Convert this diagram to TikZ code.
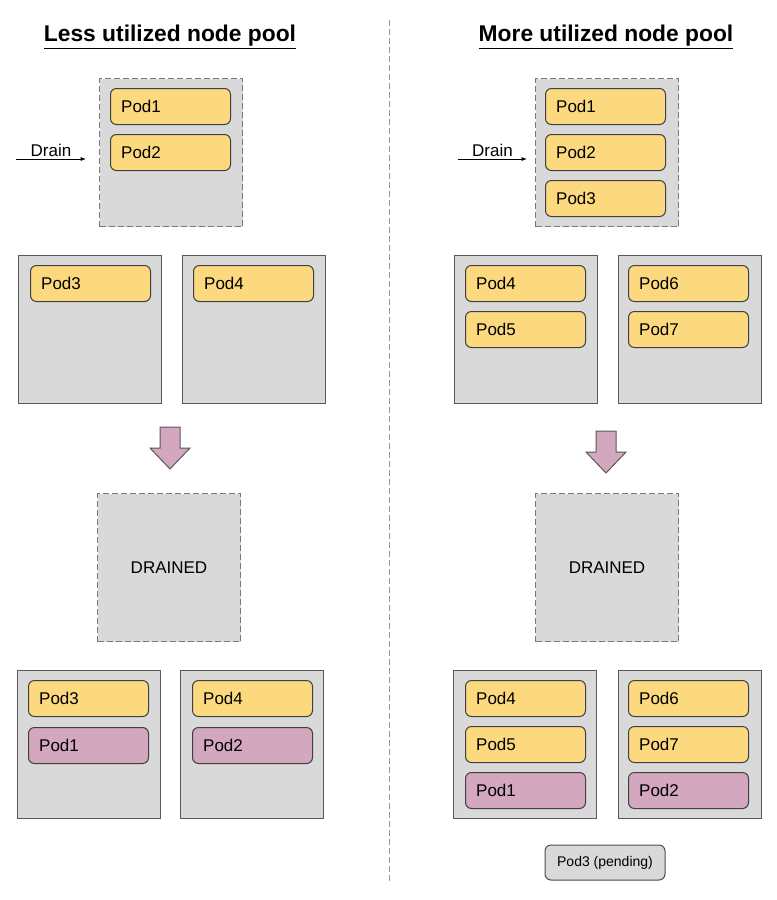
\documentclass[tikz,border=0pt]{standalone}
\usepackage{fontspec}
\setmainfont{Liberation Sans}
\usetikzlibrary{arrows.meta}

\definecolor{vmgray}{HTML}{D9D9D9}
\definecolor{podyellow}{HTML}{FCD97E}
\definecolor{podpurple}{HTML}{D3A8BF}
\definecolor{edgegray}{HTML}{595959}

% big down arrow between the two stages, (#1,#2) is the top middle
\newcommand{\stagearrow}[2]{%
  \draw[bigarrow] (#1,#2) ++(-10,0) -- ++(20,0) -- ++(0,21) -- ++(10,0)
    -- ++(-20,21) -- ++(-20,-21) -- ++(10,0) -- cycle;}

\begin{document}
\begin{tikzpicture}[x=0.75pt,y=-0.75pt,>={Latex[length=4pt,width=3pt]},
    vm/.style={draw=edgegray, fill=vmgray, line width=0.75pt, anchor=north west,
      minimum width=107.25pt, minimum height=111pt, inner sep=0pt,
      font=\fontsize{12.75}{15}\selectfont},
    gone/.style={vm, draw=edgegray!80, dash pattern=on 4.5pt off 2.25pt},
    pod/.style={draw=black!75, fill=podyellow, line width=0.75pt, rounded corners=4.5pt,
      anchor=north west, text width=74pt, inner xsep=8pt, inner ysep=0pt,
      minimum height=27pt, align=left, font=\fontsize{12.75}{15}\selectfont},
    moved/.style={pod, fill=podpurple},
    pending/.style={draw=black!70, fill=vmgray, line width=0.75pt, rounded corners=4.5pt,
      minimum width=90pt, minimum height=26.25pt, font=\fontsize{10.5}{12}\selectfont},
    title/.style={font=\fontsize{17.1}{20}\selectfont\bfseries},
    bigarrow/.style={draw=edgegray, fill=podpurple, line width=0.75pt},
    drainlabel/.style={above, inner sep=1.5pt, font=\fontsize{12.75}{15}\selectfont}
  ]

  \useasboundingbox (0,0) rectangle (777,900);

  % Titles and divider
  \node[title] (ltitle) at (170,37) {\underline{Less utilized node pool}};
  \node[title] (rtitle) at (606,37) {\underline{More utilized node pool}};
  \coordinate (divtop) at (389,20);
  \coordinate (divbot) at (389,882);
  \draw[black!40, line width=0.75pt, dash pattern=on 4.5pt off 2.25pt] (divtop) -- (divbot);

  %% Left: less utilized pool
  % node to drain
  \node[gone] (ldrained) at (99,78) {};
  \node[pod] (lpod1) at (110,88) {Pod1};
  \node[pod] (lpod2) at (110,134) {Pod2};
  \coordinate (ldrain) at (16,159);
  \coordinate (ldrainend) at (86,159);
  \draw[->, line width=0.6pt] (ldrain) -- node[drainlabel] {Drain} (ldrainend);

  % other nodes before
  \node[vm] (lvm1) at (18,255) {};
  \node[pod] (lpod3) at (30,265) {Pod3};
  \node[vm] (lvm2) at (182,255) {};
  \node[pod] (lpod4) at (193,265) {Pod4};

  \stagearrow{170}{427}

  % after draining
  \node[gone] (ldone) at (97,493) {DRAINED};
  \node[vm] (lvm3) at (17,670) {};
  \node[pod] (lpod3b) at (28,680) {Pod3};
  \node[moved] (lpod1b) at (28,727) {Pod1};
  \node[vm] (lvm4) at (180,670) {};
  \node[pod] (lpod4b) at (192,680) {Pod4};
  \node[moved] (lpod2b) at (192,727) {Pod2};

  %% Right: more utilized pool
  % node to drain
  \node[gone] (rdrained) at (535,78) {};
  \node[pod] (rpod1) at (545,88) {Pod1};
  \node[pod] (rpod2) at (545,134) {Pod2};
  \node[pod] (rpod3) at (545,180) {Pod3};
  \coordinate (rdrain) at (458,159);
  \coordinate (rdrainend) at (527,159);
  \draw[->, line width=0.6pt] (rdrain) -- node[drainlabel] {Drain} (rdrainend);

  % other nodes before
  \node[vm] (rvm1) at (454,255) {};
  \node[pod] (rpod4) at (465,265) {Pod4};
  \node[pod] (rpod5) at (465,311) {Pod5};
  \node[vm] (rvm2) at (618,255) {};
  \node[pod] (rpod6) at (628,265) {Pod6};
  \node[pod] (rpod7) at (628,311) {Pod7};

  \stagearrow{606}{431}

  % after draining
  \node[gone] (rdone) at (535,493) {DRAINED};
  \node[vm] (rvm3) at (453,670) {};
  \node[pod] (rpod4b) at (465,680) {Pod4};
  \node[pod] (rpod5b) at (465,726) {Pod5};
  \node[moved] (rpod1b) at (465,772) {Pod1};
  \node[vm] (rvm4) at (618,670) {};
  \node[pod] (rpod6b) at (628,680) {Pod6};
  \node[pod] (rpod7b) at (628,726) {Pod7};
  \node[moved] (rpod2b) at (628,772) {Pod2};
  \node[pending] (rpending) at (605,862.5) {Pod3 (pending)};

\end{tikzpicture}
\end{document}
